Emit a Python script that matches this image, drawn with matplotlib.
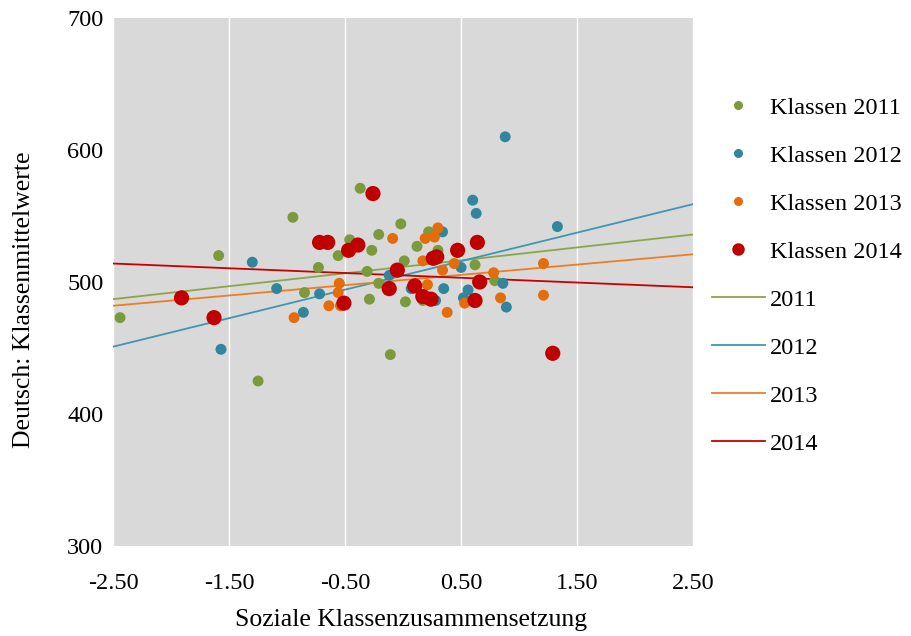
import matplotlib
matplotlib.use('Agg')
import matplotlib.pyplot as plt
from matplotlib.lines import Line2D

plt.rcParams['font.family'] = ['Liberation Serif', 'DejaVu Serif']

# Klassen 2011
green_x = [-2.44, -1.59, -1.25, -0.95, -0.85, -0.73, -0.56, -0.46, -0.37, -0.31, -0.29, -0.27,
           -0.21, -0.21, -0.11, -0.02, 0.01, 0.02, 0.12, 0.17, 0.22, 0.30, 0.62, 0.79]
green_y = [473, 520, 425, 549, 492, 511, 520, 532, 571, 508, 487, 524,
           536, 499, 445, 544, 516, 485, 527, 486, 538, 524, 513, 501]

# Klassen 2012
blue_x = [-1.57, -1.30, -1.09, -0.86, -0.72, -0.12, 0.07, 0.28, 0.34, 0.35, 0.50, 0.52,
          0.56, 0.60, 0.63, 0.86, 0.88, 0.89, 1.33]
blue_y = [449, 515, 495, 477, 491, 505, 495, 486, 538, 495, 511, 488,
          494, 562, 552, 499, 610, 481, 542]

# Klassen 2013
orange_x = [-0.94, -0.64, -0.55, -0.56, -0.54, -0.09, 0.17, 0.19, 0.21, 0.27, 0.30, 0.34,
            0.38, 0.44, 0.53, 0.78, 0.84, 1.21, 1.21]
orange_y = [473, 482, 499, 492, 482, 533, 516, 533, 498, 534, 541, 509,
            477, 514, 484, 507, 488, 514, 490]

# Klassen 2014
red_x = [-1.91, -1.63, -0.72, -0.65, -0.51, -0.47, -0.39, -0.26, -0.12, -0.05, 0.10, 0.17,
         0.24, 0.26, 0.29, 0.47, 0.62, 0.64, 0.66, 1.29]
red_y = [488, 473, 530, 530, 484, 524, 528, 567, 495, 509, 497, 489,
         487, 518, 519, 524, 486, 530, 500, 446]

# linear trends (values at the axis ends)
trend_x = [-2.5, 2.5]
trend_2011 = [487, 536]
trend_2012 = [451, 559]
trend_2013 = [482, 521]
trend_2014 = [514, 496]

fig = plt.figure(figsize=(9.12, 6.36), dpi=100)
ax = fig.add_axes([0.124, 0.1415, 0.636, 0.8302])
ax.set_facecolor('#D9D9D9')

# trend lines (under the points)
ax.plot(trend_x, trend_2011, color='#8BA64A', lw=1.3, zorder=2)
ax.plot(trend_x, trend_2012, color='#3F97B0', lw=1.3, zorder=2)
ax.plot(trend_x, trend_2013, color='#EE7D22', lw=1.3, zorder=2)
ax.plot(trend_x, trend_2014, color='#C80000', lw=1.3, zorder=2)

ax.scatter(green_x, green_y, s=62, color='#7A9A3C', edgecolors='none', zorder=3)
ax.scatter(blue_x, blue_y, s=62, color='#31869E', edgecolors='none', zorder=3)
ax.scatter(orange_x, orange_y, s=62, color='#E46C0A', edgecolors='none', zorder=3)
ax.scatter(red_x, red_y, s=120, color='#C00000', edgecolors='none', zorder=4)

ax.set_xlim(-2.5, 2.5)
ax.set_ylim(300, 700)
ax.set_xticks([-2.5, -1.5, -0.5, 0.5, 1.5, 2.5])
ax.set_xticklabels(['-2.50', '-1.50', '-0.50', '0.50', '1.50', '2.50'])
ax.set_yticks([300, 400, 500, 600, 700])
ax.tick_params(length=0, labelsize=17.5, colors='black')
ax.tick_params(axis='x', pad=19.5)
ax.tick_params(axis='y', pad=7)
ax.grid(True, axis='x', color='white', lw=1.0)
ax.set_axisbelow(True)
for s in ax.spines.values():
    s.set_visible(False)

fig.text(411 / 912, 1 - 620 / 636, 'Soziale Klassenzusammensetzung',
         fontsize=18.5, ha='center', va='center')
fig.text(24 / 912, 1 - 300 / 636, 'Deutsch: Klassenmittelwerte',
         fontsize=18.5, ha='center', va='center', rotation=90)

handles = [
    Line2D([], [], ls='none', marker='o', ms=6.5, color='#7A9A3C', mec='none'),
    Line2D([], [], ls='none', marker='o', ms=6.5, color='#31869E', mec='none'),
    Line2D([], [], ls='none', marker='o', ms=6.5, color='#E46C0A', mec='none'),
    Line2D([], [], ls='none', marker='o', ms=9, color='#C00000', mec='none'),
    Line2D([], [], color='#8BA64A', lw=1.3),
    Line2D([], [], color='#3F97B0', lw=1.3),
    Line2D([], [], color='#EE7D22', lw=1.3),
    Line2D([], [], color='#C80000', lw=1.3),
]
labels = ['Klassen 2011', 'Klassen 2012', 'Klassen 2013', 'Klassen 2014',
          '2011', '2012', '2013', '2014']
fig.legend(handles, labels, loc='upper left', bbox_to_anchor=(712 / 912, 0.848),
           frameon=False, fontsize=17.5, handlelength=2.18, handletextpad=0.2,
           labelspacing=1.07, borderaxespad=0, borderpad=0)

fig.savefig('out.png', dpi=100)
